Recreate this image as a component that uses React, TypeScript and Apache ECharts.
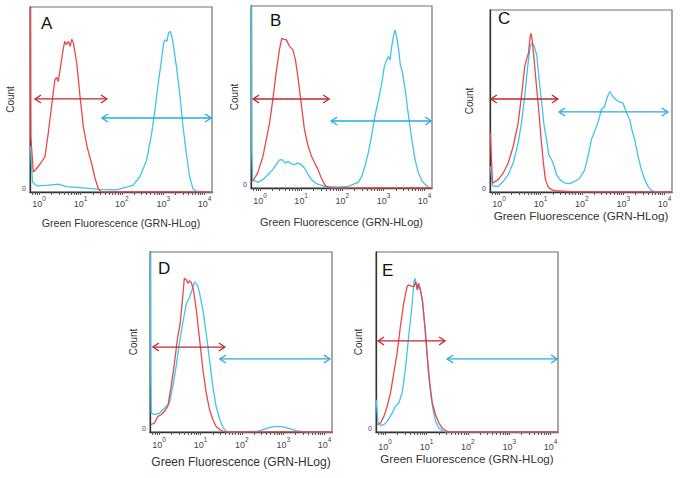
import React, { useEffect, useRef } from "react";
import * as echarts from "echarts";

// x values are log10(fluorescence), y values are % of the panel's full count scale
const panels = ["A", "B", "C", "D", "E"];
const xTickLabels = [0, 1, 2, 3, 4];

const redA = [[-0.21,100],[-0.2,30],[-0.14,10.8],[-0.06,12.7],[0.06,16.3],[0.14,19],[0.22,31.6],[0.3,46.1],[0.38,60.6],[0.42,62],[0.46,59.7],[0.5,65.1],[0.58,76.9],[0.62,81.4],[0.66,79.6],[0.71,81.4],[0.75,78.7],[0.79,82.6],[0.83,80.5],[0.91,69.6],[0.99,51.5],[1.07,35.3],[1.16,24.4],[1.27,15.4],[1.35,7.6],[1.43,1.8],[1.51,0],[4.18,0]];
const cyanA = [[-0.21,25],[-0.16,5.4],[-0.06,3.3],[0.18,3.6],[0.46,4.3],[0.66,2.9],[1.07,2.2],[1.47,1.4],[1.87,1.2],[2.27,3.6],[2.43,8.1],[2.6,17.2],[2.72,31.6],[2.8,44.3],[2.88,58.8],[2.96,71.4],[3.01,80.5],[3.05,82.3],[3.09,81.4],[3.13,86.1],[3.17,86.8],[3.21,84.1],[3.25,78.7],[3.32,67.8],[3.4,53.3],[3.48,35.3],[3.56,20.8],[3.64,8.1],[3.72,1.8],[3.8,0.4],[4.18,0]];

const redB = [[-0.18,3.7],[-0.06,8.2],[0.07,17.4],[0.15,26.5],[0.23,35.6],[0.31,48.4],[0.39,63.1],[0.47,75.9],[0.53,82.3],[0.58,81.7],[0.64,81.4],[0.72,77.7],[0.8,75.9],[0.86,70.4],[0.92,61.2],[1,46.6],[1.08,32],[1.17,22.9],[1.25,17.4],[1.33,13.7],[1.41,10.1],[1.49,5.5],[1.57,1.8],[1.65,0.4],[1.74,0],[4.18,0]];
const cyanB = [[-0.21,100],[-0.2,20],[-0.18,4.6],[-0.06,3.1],[0.07,4.6],[0.19,7.3],[0.31,10.1],[0.39,12.8],[0.47,15.5],[0.55,15.5],[0.61,13.7],[0.68,14.6],[0.76,13.3],[0.84,12.8],[0.92,13.7],[1,12.8],[1.08,11],[1.17,7.3],[1.25,4.6],[1.37,2.4],[1.57,0.9],[1.9,0.4],[2.14,0.9],[2.31,2.4],[2.39,3.1],[2.47,6.4],[2.55,11.9],[2.63,19.2],[2.71,28.3],[2.79,39.3],[2.88,48.4],[2.96,57.6],[3.02,66.7],[3.08,70.4],[3.12,72.2],[3.16,70.4],[3.2,77.7],[3.24,83.2],[3.28,86.8],[3.32,83.2],[3.37,75.9],[3.41,67.6],[3.45,64.9],[3.53,53.9],[3.61,39.3],[3.69,26.5],[3.77,15.5],[3.85,8.2],[3.94,3.7],[4.02,1.8],[4.1,0.5],[4.18,0.2]];

const redC = [[-0.21,32.4],[-0.16,4.9],[-0.02,6.8],[0.1,10.4],[0.22,15.9],[0.34,25],[0.46,37.8],[0.54,52.5],[0.62,69],[0.66,72.6],[0.71,76.2],[0.75,85.2],[0.77,87.2],[0.8,83.5],[0.84,74.4],[0.89,61.6],[0.95,47],[1.01,30.7],[1.07,16.1],[1.12,6.8],[1.19,2.6],[1.27,1.3],[1.35,0.7],[1.75,0.2],[2,0],[4.18,0]];
const cyanC = [[-0.21,14.1],[-0.16,3.3],[-0.02,3.1],[0.1,5.8],[0.22,9.5],[0.34,15.9],[0.46,26.9],[0.54,37.8],[0.62,52.5],[0.69,68.9],[0.75,79.9],[0.79,81.7],[0.84,80.8],[0.91,75.3],[0.96,63.4],[1.03,48.8],[1.09,36],[1.15,28.7],[1.2,20.5],[1.27,17.7],[1.33,14.1],[1.39,9.5],[1.47,6.8],[1.59,4.9],[1.71,4.6],[1.83,5.8],[1.95,7.7],[2.07,12.2],[2.15,19.6],[2.23,28.7],[2.31,33.3],[2.41,39.7],[2.47,45.2],[2.55,47],[2.62,52.5],[2.68,55.2],[2.72,53.4],[2.78,51.6],[2.88,49.7],[3,48.8],[3.05,45.2],[3.12,41.5],[3.16,39.7],[3.21,34.2],[3.28,28.7],[3.36,19.6],[3.44,12.3],[3.52,6.8],[3.6,3.1],[3.68,0.9],[3.76,0.4],[3.9,0],[4.18,0]];

const redD = [[-0.2,4.1],[-0.11,5],[-0.03,8.7],[0.05,9.6],[0.13,11.5],[0.21,14.2],[0.29,25.1],[0.37,38.1],[0.45,52.9],[0.51,60.3],[0.57,75],[0.61,85.4],[0.66,84.5],[0.7,82.6],[0.74,84.1],[0.78,83],[0.83,78.9],[0.9,67.8],[0.98,51.2],[1.06,34.6],[1.14,21.6],[1.22,12.4],[1.3,6.8],[1.38,3.1],[1.47,1.3],[1.55,0.4],[1.63,0],[4.18,0]];
const cyanD = [[-0.21,100],[-0.2,30],[-0.19,10.5],[-0.11,9.6],[0.01,10.5],[0.09,12.4],[0.17,14.2],[0.25,16.1],[0.33,25.1],[0.41,36.2],[0.49,49.2],[0.57,60.3],[0.66,71.3],[0.74,75],[0.82,80.6],[0.86,83.4],[0.9,82.4],[0.94,80.6],[0.98,76.9],[1.06,67.7],[1.14,54.7],[1.22,39.9],[1.3,25.1],[1.38,14],[1.47,6.8],[1.55,2.2],[1.63,0.4],[1.79,0],[2.36,0.4],[2.52,1.3],[2.68,2.6],[2.84,3.1],[3,2.8],[3.17,1.7],[3.33,0.6],[3.49,0.2],[3.65,0],[4.18,0]];

const redE = [[-0.2,4.1],[-0.11,5],[-0.03,8.7],[0.05,14.2],[0.13,21.6],[0.21,32.7],[0.29,43.8],[0.37,58.6],[0.45,71.5],[0.53,80.8],[0.57,81.7],[0.64,81.1],[0.7,80.8],[0.74,83.5],[0.78,78.9],[0.8,82.6],[0.86,78],[0.9,73.4],[0.96,58.6],[1.02,41.9],[1.08,27.2],[1.14,16.1],[1.22,9.6],[1.3,5],[1.38,2.2],[1.47,0.7],[1.55,0],[4.18,0]];
const cyanE = [[-0.215,17.9],[-0.17,5],[-0.11,3.7],[-0.03,4.1],[0.05,5.9],[0.17,10.5],[0.25,14.2],[0.33,16.1],[0.41,21.6],[0.49,34.6],[0.57,53.1],[0.64,67.8],[0.7,83.5],[0.72,85.4],[0.75,82.6],[0.78,79],[0.82,82.6],[0.86,79],[0.91,71.6],[0.98,54.9],[1.04,34.6],[1.1,21.6],[1.16,12.4],[1.22,5.9],[1.3,2.2],[1.38,0.7],[1.47,0],[4.18,0]];

// gates: [from, to, height]
const redArrowA = [-0.1, 1.64, 50.3];
const cyanArrowA = [1.52, 4.16, 40];
const redArrowB = [-0.17, 1.68, 48.9];
const cyanArrowB = [1.73, 4.16, 36.8];
const redArrowC = [-0.2, 1.42, 51.1];
const cyanArrowC = [1.45, 4.08, 44];
const redArrowD = [-0.15, 1.59, 47.2];
const cyanArrowD = [1.47, 4.13, 40.6];
const redArrowE = [-0.17, 1.45, 50.6];
const cyanArrowE = [1.5, 4.16, 40.6];

const reds = [redA, redB, redC, redD, redE];
const cyans = [cyanA, cyanB, cyanC, cyanD, cyanE];
const redArrows = [redArrowA, redArrowB, redArrowC, redArrowD, redArrowE];
const cyanArrows = [cyanArrowA, cyanArrowB, cyanArrowC, cyanArrowD, cyanArrowE];

const X_MIN = -0.22;
const X_MAX = 4.18;
const FONT = "Liberation Sans, Arial, sans-serif";
const RED = "#e8484b";
const RED_ARROW = "#c1272d";
const CYAN = "#3fc4ea";
const CYAN_ARROW = "#28a8de";

// layout per panel
const gridRects = [
  { left: 30, top: 7, width: 182, height: 185 },
  { left: 251, top: 6, width: 181, height: 182 },
  { left: 490, top: 10, width: 182, height: 182 },
  { left: 150, top: 252, width: 182, height: 180 },
  { left: 376, top: 252, width: 182, height: 180 },
];
const titleFont = [10.6, 10.9, 11.7, 12, 11.6];
const titleGap = [25, 28, 17, 24, 20];
const labelMargin = [3, 4, 3, 4, 6];
const countGap = [15, 9, 16, 4, 13];
const letterPos = [
  [41, 15],
  [270, 12],
  [498, 10],
  [158, 260],
  [382, 262],
];

function tickValues() {
  const v: number[] = [];
  for (let n = -1; n <= 4; n++) {
    for (let k = 1; k <= 9; k++) {
      const t = n + Math.log10(k);
      if (t >= X_MIN - 1e-9 && t <= X_MAX + 1e-9) v.push(t);
    }
  }
  return v;
}

function arrowRender(color: string) {
  return (params: any, api: any) => {
    const p1 = api.coord([api.value(0), api.value(2)]);
    const p2 = api.coord([api.value(1), api.value(2)]);
    const w = 6;
    const h = 4;
    const st = { stroke: color, lineWidth: 1.3, fill: null };
    return {
      type: "group",
      children: [
        { type: "line", shape: { x1: p1[0], y1: p1[1], x2: p2[0], y2: p2[1] }, style: st },
        { type: "polyline", shape: { points: [[p1[0] + w, p1[1] - h], [p1[0], p1[1]], [p1[0] + w, p1[1] + h]] }, style: st },
        { type: "polyline", shape: { points: [[p2[0] - w, p2[1] - h], [p2[0], p2[1]], [p2[0] - w, p2[1] + h]] }, style: st },
      ],
    };
  };
}

export default function App() {
  const ref = useRef<HTMLDivElement>(null);
  useEffect(() => {
    document.body.style.margin = "0";
    if (!ref.current) return;
    const chart = echarts.init(ref.current, null, { renderer: "svg" });
    const ticks = tickValues();
    const grid = gridRects.map((r) => ({ ...r, show: true, borderColor: "#707070", borderWidth: 1.2, backgroundColor: "#fff", containLabel: false, outerBoundsMode: "none" }));
    const xAxis = panels.map((_, i) => ({
      type: "value",
      gridIndex: i,
      min: X_MIN,
      max: X_MAX,
      name: "Green Fluorescence (GRN-HLog)",
      nameLocation: "middle",
      nameGap: titleGap[i],
      nameTextStyle: { fontFamily: FONT, fontSize: titleFont[i], color: "#333", verticalAlign: "top" },
      splitLine: { show: false },
      axisLine: { show: true, onZero: false, lineStyle: { color: "#333", width: 1.3 } },
      axisTick: { show: true, customValues: ticks, length: 3, inside: false, lineStyle: { color: "#555", width: 1 } },
      axisLabel: {
        customValues: xTickLabels,
        margin: labelMargin[i],
        formatter: (v: number) => `{b|10}{s|${Math.round(v)}}`,
        rich: {
          b: { fontFamily: FONT, fontSize: 9, color: "#444", lineHeight: 13, verticalAlign: "bottom" },
          s: { fontFamily: FONT, fontSize: 6.5, color: "#444", lineHeight: 7, verticalAlign: "top" },
        },
      },
    }));
    const yAxis = panels.map((_, i) => ({
      type: "value",
      gridIndex: i,
      min: 0,
      max: 100,
      name: "Count",
      nameLocation: "middle",
      nameGap: countGap[i],
      nameRotate: 90,
      nameTextStyle: { fontFamily: FONT, fontSize: 10, color: "#333" },
      splitLine: { show: false },
      axisLine: { show: true, onZero: false, lineStyle: { color: "#333", width: 1.3 } },
      axisTick: { show: false },
      axisLabel: { customValues: [0], margin: 4, fontFamily: FONT, fontSize: 7, color: "#444", verticalAlign: "bottom" },
    }));
    const series: any[] = [];
    panels.forEach((_, i) => {
      series.push({
        type: "line", xAxisIndex: i, yAxisIndex: i, data: cyans[i], showSymbol: false, symbol: "none",
        lineStyle: { color: CYAN, width: 1.3 }, z: 2, silent: true,
      });
      series.push({
        type: "line", xAxisIndex: i, yAxisIndex: i, data: reds[i], showSymbol: false, symbol: "none",
        lineStyle: { color: RED, width: 1.3 }, z: 3, silent: true,
      });
      series.push({
        type: "custom", xAxisIndex: i, yAxisIndex: i, data: [redArrows[i]], renderItem: arrowRender(RED_ARROW),
        encode: { x: [0, 1], y: 2 }, z: 4, silent: true,
      });
      series.push({
        type: "custom", xAxisIndex: i, yAxisIndex: i, data: [cyanArrows[i]], renderItem: arrowRender(CYAN_ARROW),
        encode: { x: [0, 1], y: 2 }, z: 4, silent: true,
      });
    });
    const graphic = panels.map((p, i) => ({
      type: "text",
      x: letterPos[i][0],
      y: letterPos[i][1],
      z: 10,
      style: { text: p, fontFamily: FONT, fontSize: 17, fill: "#111", verticalAlign: "top", align: "left" },
    }));
    chart.setOption({
      animation: false,
      backgroundColor: "#fff",
      grid,
      xAxis,
      yAxis,
      series,
      graphic,
    });
    return () => chart.dispose();
  }, []);
  return <div ref={ref} style={{ width: 686, height: 478 }} />;
}
